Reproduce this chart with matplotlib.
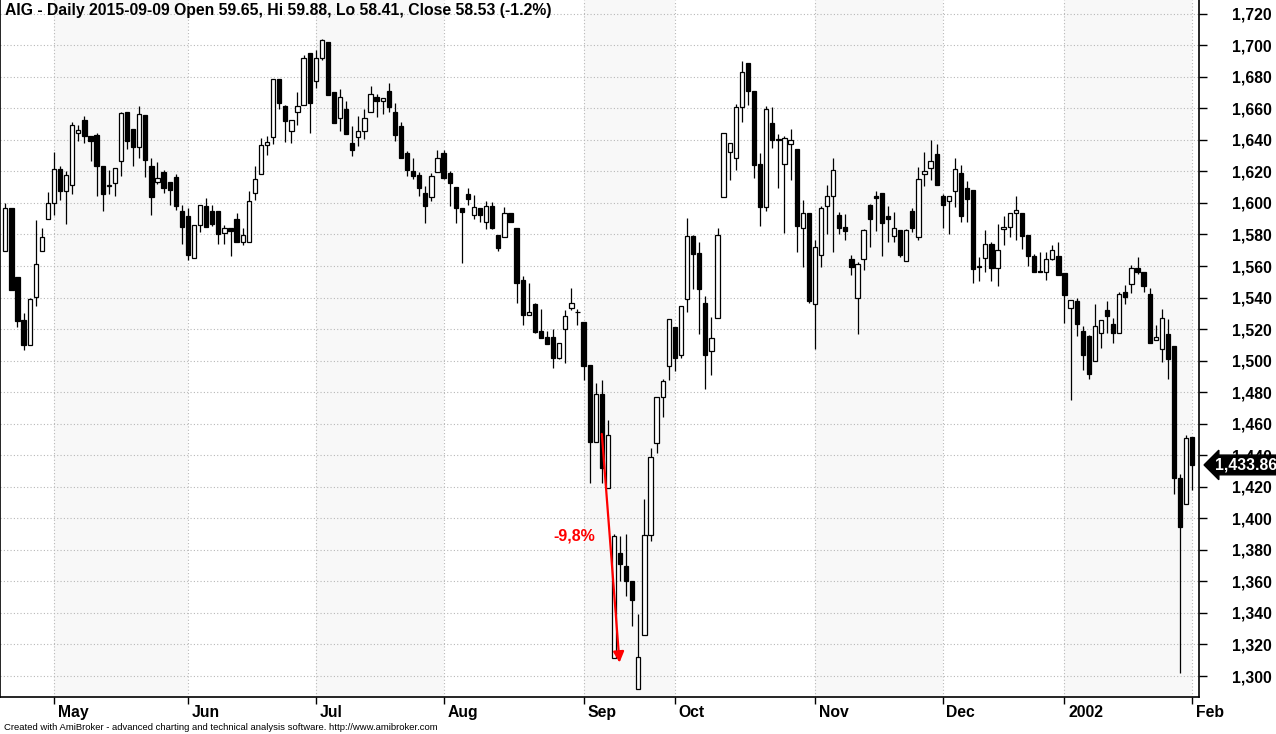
import matplotlib
matplotlib.use('Agg')
import matplotlib.pyplot as plt
import matplotlib.transforms as mtransforms
from matplotlib.ticker import FuncFormatter, MultipleLocator

# daily OHLC, one entry per bar
opens = [1569.5, 1596.8, 1553.3, 1525.7, 1510.1, 1540.6, 1569.5, 1589.9, 1600.0, 1621.5,
         1607.4, 1611.4, 1644.6, 1652.6, 1642.5, 1643.0, 1623.6, 1610.7, 1612.4, 1626.3,
         1657.7, 1647.0, 1635.4, 1655.8, 1623.6, 1613.1, 1619.8, 1613.5, 1616.6, 1595.2,
         1592.0, 1565.3, 1585.9, 1598.3, 1595.0, 1595.0, 1580.9, 1584.2, 1589.9, 1575.4,
         1575.4, 1606.3, 1618.3, 1636.6, 1641.7, 1678.3, 1661.3, 1645.5, 1657.5, 1661.9,
         1695.4, 1677.5, 1692.2, 1702.3, 1670.1, 1654.1, 1659.4, 1637.9, 1641.7, 1645.5,
         1657.5, 1667.0, 1664.8, 1671.0, 1657.5, 1648.8, 1631.6, 1620.2, 1617.7, 1606.1,
         1604.0, 1619.8, 1631.4, 1618.7, 1609.9, 1596.6, 1605.7, 1592.6, 1596.6, 1587.8,
         1597.9, 1579.6, 1578.7, 1593.5, 1584.0, 1550.9, 1529.1, 1535.8, 1518.7, 1515.0,
         1515.0, 1501.9, 1520.2, 1533.1, 1531.0, 1524.8, 1497.0, 1448.2, 1478.7, 1419.0,
         1311.6, 1378.1, 1369.9, 1360.4, 1291.8, 1326.1, 1389.3, 1447.8, 1477.1, 1496.6,
         1521.3, 1503.4, 1539.4, 1579.0, 1568.2, 1536.4, 1506.3, 1527.2, 1604.0, 1632.0,
         1628.2, 1661.1, 1688.8, 1671.2, 1624.4, 1597.3, 1651.0, 1640.8, 1624.4, 1637.1,
         1634.1, 1584.4, 1593.5, 1536.0, 1566.7, 1598.3, 1604.2, 1592.2, 1584.8, 1564.4,
         1539.8, 1564.4, 1598.7, 1604.4, 1606.5, 1591.8, 1579.0, 1583.0, 1563.2, 1595.0,
         1578.7, 1618.1, 1621.9, 1630.9, 1604.4, 1601.0, 1607.8, 1618.7, 1609.3, 1608.0,
         1560.2, 1565.1, 1573.9, 1558.7, 1583.6, 1584.8, 1593.7, 1593.7, 1579.8, 1566.5,
         1556.6, 1556.2, 1564.6, 1566.5, 1555.8, 1533.1, 1538.1, 1518.5, 1515.4, 1499.6,
         1517.3, 1531.8, 1523.0, 1517.3, 1543.7, 1548.4, 1558.5, 1556.0, 1542.0, 1513.1,
         1507.2, 1516.7, 1509.3, 1425.3, 1408.9, 1451.6]
highs = [1600.0, 1597.0, 1553.3, 1530.0, 1540.0, 1589.5, 1583.8, 1607.0, 1632.6, 1623.2,
         1620.4, 1651.4, 1649.5, 1655.2, 1642.5, 1644.2, 1623.6, 1621.0, 1622.1, 1657.7,
         1657.7, 1647.0, 1661.5, 1655.8, 1628.6, 1626.0, 1621.0, 1613.5, 1618.5, 1598.5,
         1596.6, 1586.3, 1599.0, 1603.4, 1599.0, 1595.0, 1586.3, 1584.2, 1593.9, 1584.2,
         1607.6, 1623.6, 1641.1, 1642.5, 1678.3, 1678.3, 1662.1, 1652.4, 1670.3, 1693.7,
         1695.4, 1696.8, 1703.8, 1702.3, 1670.1, 1672.2, 1664.6, 1648.8, 1655.2, 1659.4,
         1674.1, 1668.8, 1666.3, 1676.0, 1663.6, 1651.6, 1633.0, 1628.8, 1619.8, 1610.7,
         1618.7, 1633.5, 1633.5, 1620.0, 1609.9, 1596.6, 1609.3, 1605.0, 1596.6, 1601.3,
         1600.4, 1579.6, 1597.5, 1593.5, 1584.0, 1553.7, 1549.0, 1536.4, 1532.6, 1518.7,
         1520.0, 1511.0, 1532.0, 1545.9, 1533.0, 1524.8, 1497.0, 1485.7, 1487.6, 1462.1,
         1390.1, 1388.7, 1390.1, 1360.4, 1339.6, 1412.2, 1444.4, 1477.1, 1488.6, 1526.3,
         1521.3, 1534.5, 1590.3, 1579.8, 1575.4, 1541.0, 1527.8, 1584.0, 1644.6, 1637.7,
         1662.5, 1690.3, 1688.8, 1671.2, 1631.4, 1661.5, 1660.6, 1644.0, 1642.3, 1647.2,
         1634.1, 1601.9, 1593.5, 1576.6, 1598.1, 1611.4, 1628.2, 1594.3, 1593.0, 1567.0,
         1562.3, 1583.6, 1599.4, 1607.6, 1606.5, 1598.1, 1594.3, 1583.0, 1583.6, 1596.6,
         1622.9, 1632.6, 1639.8, 1637.7, 1605.7, 1604.4, 1628.4, 1624.0, 1613.9, 1608.0,
         1565.7, 1583.0, 1575.4, 1586.5, 1591.8, 1593.7, 1604.6, 1593.7, 1579.8, 1567.6,
         1568.6, 1568.8, 1573.1, 1575.0, 1555.8, 1538.7, 1540.0, 1521.7, 1516.2, 1535.8,
         1525.5, 1537.7, 1526.8, 1543.7, 1547.7, 1560.6, 1565.5, 1556.0, 1545.8, 1522.4,
         1532.5, 1526.4, 1509.3, 1427.9, 1452.8, 1451.6]
lows = [1569.5, 1544.9, 1521.5, 1507.0, 1510.1, 1534.8, 1569.5, 1589.9, 1592.2, 1601.7,
        1586.5, 1605.9, 1639.6, 1638.3, 1626.3, 1604.2, 1594.7, 1605.9, 1604.6, 1616.8,
        1634.3, 1623.2, 1628.2, 1616.2, 1592.2, 1611.8, 1606.1, 1599.0, 1595.4, 1573.7,
        1563.8, 1565.3, 1581.5, 1584.8, 1585.3, 1573.7, 1573.7, 1566.1, 1575.4, 1573.3,
        1575.4, 1602.1, 1618.3, 1630.7, 1637.3, 1659.6, 1638.5, 1637.9, 1649.7, 1661.9,
        1644.2, 1673.0, 1690.9, 1668.6, 1651.0, 1645.9, 1644.0, 1629.5, 1636.4, 1640.8,
        1657.5, 1654.7, 1656.6, 1657.9, 1639.2, 1628.8, 1616.9, 1615.4, 1604.4, 1587.6,
        1601.5, 1619.8, 1615.0, 1598.3, 1587.6, 1561.9, 1598.9, 1590.1, 1588.2, 1583.4,
        1583.4, 1569.3, 1578.7, 1588.2, 1536.5, 1522.7, 1529.1, 1517.7, 1514.5, 1510.7,
        1495.6, 1501.0, 1498.7, 1532.0, 1522.7, 1488.0, 1422.1, 1448.2, 1422.5, 1419.0,
        1311.6, 1360.4, 1350.5, 1331.6, 1291.8, 1326.1, 1385.9, 1441.5, 1464.2, 1488.0,
        1493.7, 1501.9, 1531.0, 1545.3, 1516.6, 1482.0, 1491.0, 1527.2, 1604.0, 1614.7,
        1621.1, 1651.4, 1662.1, 1615.6, 1585.7, 1594.7, 1635.0, 1609.3, 1580.9, 1614.7,
        1568.9, 1559.4, 1536.6, 1507.2, 1559.4, 1580.4, 1568.6, 1580.2, 1576.2, 1554.1,
        1517.1, 1557.7, 1572.0, 1582.5, 1566.1, 1575.4, 1575.4, 1565.5, 1563.2, 1581.3,
        1576.2, 1610.9, 1614.7, 1611.6, 1584.4, 1580.4, 1597.7, 1588.2, 1587.8, 1549.3,
        1550.3, 1556.0, 1550.3, 1547.4, 1573.1, 1578.3, 1576.2, 1570.7, 1560.0, 1556.2,
        1556.2, 1551.2, 1563.8, 1554.5, 1523.8, 1474.8, 1515.8, 1494.3, 1488.4, 1499.6,
        1508.2, 1517.5, 1511.0, 1517.3, 1535.7, 1542.7, 1554.9, 1543.7, 1511.0, 1513.1,
        1499.3, 1488.1, 1415.2, 1301.7, 1408.9, 1417.9]
closes = [1596.8, 1544.9, 1525.3, 1510.1, 1539.0, 1561.5, 1578.5, 1600.0, 1621.5, 1607.4,
          1617.7, 1649.3, 1646.1, 1642.7, 1639.6, 1623.2, 1605.5, 1610.7, 1622.1, 1657.1,
          1639.6, 1635.2, 1656.2, 1627.0, 1603.6, 1615.8, 1609.3, 1608.0, 1597.9, 1584.6,
          1567.0, 1586.3, 1599.0, 1584.8, 1586.5, 1580.4, 1584.0, 1582.3, 1575.4, 1579.6,
          1601.3, 1615.2, 1636.6, 1638.5, 1678.3, 1663.2, 1652.2, 1652.4, 1661.7, 1692.2,
          1663.2, 1692.2, 1703.2, 1668.6, 1651.0, 1667.0, 1644.0, 1633.3, 1645.5, 1653.7,
          1668.8, 1664.8, 1666.3, 1661.1, 1643.4, 1628.8, 1621.1, 1617.3, 1609.7, 1598.3,
          1617.1, 1628.8, 1616.0, 1612.8, 1597.0, 1594.5, 1602.3, 1597.3, 1592.2, 1597.9,
          1583.8, 1571.2, 1593.5, 1588.2, 1549.0, 1529.1, 1530.7, 1518.3, 1514.5, 1510.7,
          1501.9, 1511.0, 1528.0, 1536.4, 1530.6, 1496.8, 1448.2, 1478.7, 1432.0, 1453.1,
          1389.1, 1370.8, 1360.0, 1348.0, 1312.2, 1389.3, 1439.2, 1477.1, 1487.2, 1526.3,
          1501.5, 1534.5, 1579.0, 1567.8, 1545.7, 1503.8, 1514.1, 1579.8, 1644.6, 1637.7,
          1661.1, 1683.2, 1670.9, 1624.2, 1597.3, 1659.8, 1640.0, 1640.0, 1641.5, 1640.2,
          1585.1, 1593.5, 1537.7, 1572.0, 1596.6, 1604.2, 1620.6, 1583.8, 1581.9, 1559.2,
          1561.3, 1583.0, 1589.7, 1603.4, 1587.2, 1590.1, 1584.0, 1566.7, 1583.0, 1583.8,
          1614.9, 1620.0, 1626.3, 1611.6, 1598.9, 1604.4, 1621.3, 1592.0, 1602.7, 1558.1,
          1559.4, 1573.9, 1558.7, 1570.1, 1584.8, 1593.7, 1595.6, 1579.2, 1566.3, 1556.2,
          1556.2, 1564.6, 1570.3, 1554.5, 1541.7, 1538.7, 1523.4, 1503.8, 1491.8, 1521.7,
          1525.5, 1528.0, 1517.3, 1542.0, 1540.6, 1558.5, 1556.0, 1547.3, 1511.0, 1514.8,
          1526.8, 1500.8, 1425.3, 1394.7, 1451.1, 1433.86]

month_labels = ['May', 'Jun', 'Jul', 'Aug', 'Sep', 'Oct', 'Nov', 'Dec', '2002', 'Feb']
month_starts = [8, 30, 51, 72, 95, 110, 133, 154, 174, 195]
shaded = ['May', 'Jul', 'Sep', 'Nov', '2002']

title = 'AIG - Daily 2015-09-09 Open 59.65, Hi 59.88, Lo 58.41, Close 58.53 (-1.2%)'
footer = 'Created with AmiBroker - advanced charting and technical analysis software. http://www.amibroker.com'
last_close = closes[-1]

plt.rcParams['font.family'] = ['Liberation Sans', 'DejaVu Sans']

fig = plt.figure(figsize=(12.76, 7.34), dpi=100)
ax = fig.add_axes([0.0, 37 / 734, 1199 / 1276, 697 / 734])
ax.set_xlim(-0.87, 196.1)
ax.set_ylim(1286.7, 1728.7)

# alternating month shading
for k, lab in enumerate(month_labels):
    if lab in shaded and k + 1 < len(month_starts):
        ax.axvspan(month_starts[k], month_starts[k + 1], color='#f8f8f8', zorder=0, lw=0)

# grid
ax.yaxis.set_major_locator(MultipleLocator(20))
ax.yaxis.grid(True, linestyle=(0, (1, 2)), color='#b8b8b8', lw=0.8, zorder=1)
for m in month_starts:
    ax.axvline(m, linestyle=(0, (1, 2)), color='#b8b8b8', lw=0.8, zorder=1)

# candles
n = len(closes)
xs = list(range(n))
ax.vlines(xs, lows, highs, color='black', lw=0.9, zorder=2)
bottoms = [min(o, c) for o, c in zip(opens, closes)]
heights = [max(abs(c - o), 0.5) for o, c in zip(opens, closes)]
fills = ['white' if c >= o else 'black' for o, c in zip(opens, closes)]
ax.bar(xs, heights, 0.7, bottoms, color=fills, edgecolor='black', linewidth=0.9, zorder=3)

# red move annotation
ax.annotate('', xy=(100.9, 1308.5), xytext=(98.0, 1453.5),
            arrowprops=dict(arrowstyle='-|>', color='red', lw=1.6, mutation_scale=16,
                            shrinkA=0, shrinkB=0), zorder=5)
ax.text(93.4, 1388.8, '-9,8%', color='red', fontsize=11.5, fontweight='bold',
        ha='center', va='center', zorder=5)

# axes look
ax.yaxis.tick_right()
ax.yaxis.set_major_formatter(FuncFormatter(lambda v, p: '{:,.0f}'.format(v)))
ax.tick_params(axis='y', direction='out', length=6, width=1, pad=18,
               labelsize=11.3)
for t in ax.get_yticklabels():
    t.set_fontweight('bold')
ax.set_xticks(month_starts)
ax.set_xticklabels([])
ax.tick_params(axis='x', direction='out', length=5, width=1)
for s in ['left', 'right', 'bottom']:
    ax.spines[s].set_linewidth(1.2)
ax.spines['top'].set_visible(False)

trans = mtransforms.blended_transform_factory(ax.transData, ax.transAxes)
for m, lab in zip(month_starts, month_labels):
    ax.text(m + 0.6, -0.022, lab, transform=trans, ha='left', va='center',
            fontsize=11.3, fontweight='bold', clip_on=False)

# last price marker
tr2 = mtransforms.blended_transform_factory(ax.transAxes, ax.transData)
ax.text(1.013, last_close, '{:,.2f}'.format(last_close), transform=tr2, color='white',
        fontsize=11.3, fontweight='bold', ha='left', va='center', clip_on=False,
        bbox=dict(boxstyle='larrow,pad=0.15', fc='black', ec='black'), zorder=10)

fig.text(0.004, 0.986, title, fontsize=11.3, fontweight='bold', ha='left', va='center')
fig.text(0.003, 0.009, footer, fontsize=6.8, ha='left', va='center')

fig.savefig('out.png', dpi=100)
